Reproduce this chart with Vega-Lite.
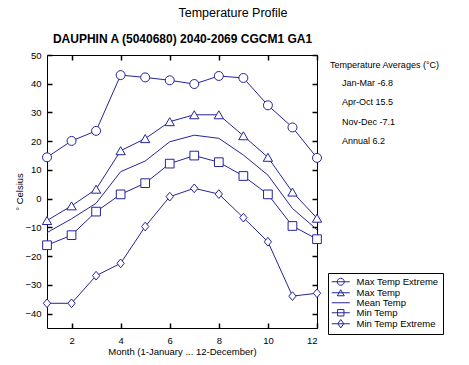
{
  "$schema": "https://vega.github.io/schema/vega-lite/v6.json",
  "width": 270,
  "height": 273,
  "autosize": "none",
  "padding": {"left": 47, "top": 55, "right": 152, "bottom": 37},
  "background": "white",
  "title": {"text": "Temperature Profile", "frame": "group", "anchor": "middle", "dx": 51, "fontSize": 12.5, "fontWeight": "normal", "font": "Liberation Sans", "color": "black", "offset": 13},
  "config": {
    "font": "Liberation Sans",
    "view": {"stroke": "black", "strokeWidth": 1},
    "axis": {"grid": false, "domain": false, "labelColor": "black", "titleColor": "black", "labelFont": "Liberation Sans", "titleFont": "Liberation Sans", "labelFontSize": 9.5, "titleFontSize": 9.5, "titleFontWeight": "normal"}
  },
  "data": {"values": [
    {"month": 1, "series": "Max Temp Extreme", "temp": 14.4},
    {"month": 2, "series": "Max Temp Extreme", "temp": 20.1},
    {"month": 3, "series": "Max Temp Extreme", "temp": 23.6},
    {"month": 4, "series": "Max Temp Extreme", "temp": 43.0},
    {"month": 5, "series": "Max Temp Extreme", "temp": 42.2},
    {"month": 6, "series": "Max Temp Extreme", "temp": 41.2},
    {"month": 7, "series": "Max Temp Extreme", "temp": 39.9},
    {"month": 8, "series": "Max Temp Extreme", "temp": 42.7},
    {"month": 9, "series": "Max Temp Extreme", "temp": 42.0},
    {"month": 10, "series": "Max Temp Extreme", "temp": 32.5},
    {"month": 11, "series": "Max Temp Extreme", "temp": 24.8},
    {"month": 12, "series": "Max Temp Extreme", "temp": 14.2},
    {"month": 1, "series": "Max Temp", "temp": -7.6},
    {"month": 2, "series": "Max Temp", "temp": -2.5},
    {"month": 3, "series": "Max Temp", "temp": 3.3},
    {"month": 4, "series": "Max Temp", "temp": 16.7},
    {"month": 5, "series": "Max Temp", "temp": 20.9},
    {"month": 6, "series": "Max Temp", "temp": 26.8},
    {"month": 7, "series": "Max Temp", "temp": 29.2},
    {"month": 8, "series": "Max Temp", "temp": 29.2},
    {"month": 9, "series": "Max Temp", "temp": 21.9},
    {"month": 10, "series": "Max Temp", "temp": 14.4},
    {"month": 11, "series": "Max Temp", "temp": 2.3},
    {"month": 12, "series": "Max Temp", "temp": -6.8},
    {"month": 1, "series": "Mean Temp", "temp": -11.8},
    {"month": 2, "series": "Mean Temp", "temp": -7.0},
    {"month": 3, "series": "Mean Temp", "temp": -1.6},
    {"month": 4, "series": "Mean Temp", "temp": 9.4},
    {"month": 5, "series": "Mean Temp", "temp": 13.1},
    {"month": 6, "series": "Mean Temp", "temp": 19.8},
    {"month": 7, "series": "Mean Temp", "temp": 22.1},
    {"month": 8, "series": "Mean Temp", "temp": 21.0},
    {"month": 9, "series": "Mean Temp", "temp": 15.2},
    {"month": 10, "series": "Mean Temp", "temp": 8.2},
    {"month": 11, "series": "Mean Temp", "temp": -3.4},
    {"month": 12, "series": "Mean Temp", "temp": -10.8},
    {"month": 1, "series": "Min Temp", "temp": -16.2},
    {"month": 2, "series": "Min Temp", "temp": -12.7},
    {"month": 3, "series": "Min Temp", "temp": -4.5},
    {"month": 4, "series": "Min Temp", "temp": 1.5},
    {"month": 5, "series": "Min Temp", "temp": 5.4},
    {"month": 6, "series": "Min Temp", "temp": 12.2},
    {"month": 7, "series": "Min Temp", "temp": 15.0},
    {"month": 8, "series": "Min Temp", "temp": 12.7},
    {"month": 9, "series": "Min Temp", "temp": 7.9},
    {"month": 10, "series": "Min Temp", "temp": 1.5},
    {"month": 11, "series": "Min Temp", "temp": -9.5},
    {"month": 12, "series": "Min Temp", "temp": -14.1},
    {"month": 1, "series": "Min Temp Extreme", "temp": -36.4},
    {"month": 2, "series": "Min Temp Extreme", "temp": -36.4},
    {"month": 3, "series": "Min Temp Extreme", "temp": -26.8},
    {"month": 4, "series": "Min Temp Extreme", "temp": -22.5},
    {"month": 5, "series": "Min Temp Extreme", "temp": -9.7},
    {"month": 6, "series": "Min Temp Extreme", "temp": 0.7},
    {"month": 7, "series": "Min Temp Extreme", "temp": 3.6},
    {"month": 8, "series": "Min Temp Extreme", "temp": 1.6},
    {"month": 9, "series": "Min Temp Extreme", "temp": -6.6},
    {"month": 10, "series": "Min Temp Extreme", "temp": -15.0},
    {"month": 11, "series": "Min Temp Extreme", "temp": -33.9},
    {"month": 12, "series": "Min Temp Extreme", "temp": -32.9}
  ]},
  "layer": [
    {
      "mark": {"type": "line", "color": "#24249a", "strokeWidth": 1},
      "encoding": {
        "x": {"field": "month", "type": "quantitative", "scale": {"domain": [1, 12], "nice": false, "zero": false},
              "axis": {"orient": "bottom", "title": "Month (1-January  ...  12-December)", "values": [2, 4, 6, 8, 10, 12], "tickSize": -5, "tickColor": "black", "tickWidth": 1.5, "labelPadding": 12, "titlePadding": 2}},
        "y": {"field": "temp", "type": "quantitative", "scale": {"domain": [-45, 50], "nice": false, "zero": false},
              "axis": {"orient": "left", "title": "° Celsius", "values": [-40, -30, -20, -10, 0, 10, 20, 30, 40, 50], "tickSize": -5, "tickColor": "black", "tickWidth": 1.5, "labelPadding": 11, "titlePadding": 0}},
        "detail": {"field": "series", "type": "nominal"}
      }
    },
    {
      "mark": {"type": "point", "filled": false, "fill": "white", "fillOpacity": 1, "stroke": "#24249a", "strokeWidth": 1, "size": 100, "opacity": 1},
      "encoding": {
        "x": {"field": "month", "type": "quantitative", "axis": null},
        "y": {"field": "temp", "type": "quantitative", "axis": null},
        "shape": {"field": "series", "type": "nominal", "sort": null, "legend": null,
          "scale": {"range": [
            "M-0.9,0A0.9,0.9 0 1,0 0.9,0A0.9,0.9 0 1,0 -0.9,0Z",
            "M-0.93,0.8L0,-0.8L0.93,0.8Z",
            "M0,0",
            "M-0.87,-0.87H0.87V0.87H-0.87Z",
            "M0,-0.87L0.73,0L0,0.87L-0.73,0Z"
          ]}
        }
      }
    },
    {
      "mark": {"type": "point", "opacity": 0},
      "encoding": {
        "x": {"field": "month", "type": "quantitative",
              "axis": {"orient": "top", "labels": false, "values": [2, 4, 6, 8, 10, 12], "tickSize": -5, "tickColor": "black", "tickWidth": 1.5, "title": "DAUPHIN A (5040680) 2040-2069 CGCM1 GA1", "titleFontWeight": "bold", "titleFontSize": 12, "titlePadding": 9}},
        "y": {"field": "temp", "type": "quantitative",
              "axis": {"orient": "right", "labels": false, "values": [-40, -30, -20, -10, 0, 10, 20, 30, 40, 50], "tickSize": -5, "tickColor": "black", "tickWidth": 1.5, "title": null}}
      }
    },
    {
      "mark": {"type": "point", "filled": false, "color": "#24249a", "strokeWidth": 1, "opacity": 0},
      "encoding": {
        "shape": {"field": "series", "type": "nominal", "sort": null,
          "scale": {"range": [
            "M-1.25,0H3.25M0.125,0A0.875,0.875 0 1,0 1.875,0A0.875,0.875 0 1,0 0.125,0Z",
            "M-1.25,0H3.25M0.125,0.75L1,-0.75L1.875,0.75Z",
            "M-1.25,0H3.25",
            "M-1.25,0H3.25M0.2,-0.8H1.8V0.8H0.2Z",
            "M-1.25,0H3.25M1,-1.06L1.75,0L1,1.06L0.25,0Z"
          ]},
          "legend": {
            "title": null, "orient": "none", "legendX": 281, "legendY": 218,
            "strokeColor": "black", "padding": 4, "fillColor": "white",
            "symbolSize": 64, "labelOffset": 15, "rowPadding": -1, "symbolOpacity": 1,
            "symbolStrokeColor": "#24249a", "symbolFillColor": "transparent", "symbolStrokeWidth": 1,
            "labelFontSize": 9.5, "labelFont": "Liberation Sans", "labelColor": "black"
          }
        }
      }
    },
    {
      "data": {"values": [
        {"label": "Jan-Mar -6.8"},
        {"label": "Apr-Oct 15.5"},
        {"label": "Nov-Dec -7.1"},
        {"label": "Annual 6.2"}
      ]},
      "mark": {"type": "point", "opacity": 0},
      "encoding": {
        "color": {"field": "label", "type": "nominal", "sort": null, "scale": {"range": ["white"]},
          "legend": {"title": "Temperature Averages (°C)", "orient": "none", "legendX": 283, "legendY": 6,
            "titleFontSize": 9, "titleFontWeight": "normal", "titleFont": "Liberation Sans", "titleColor": "black", "titlePadding": 8,
            "labelFontSize": 9, "labelFont": "Liberation Sans", "labelColor": "black",
            "symbolSize": 4, "symbolOpacity": 0, "labelOffset": 3, "rowPadding": 9.5, "padding": 0}
        }
      }
    }
  ],
  "resolve": {"axis": {"x": "independent", "y": "independent"}, "scale": {"shape": "independent"}}
}
